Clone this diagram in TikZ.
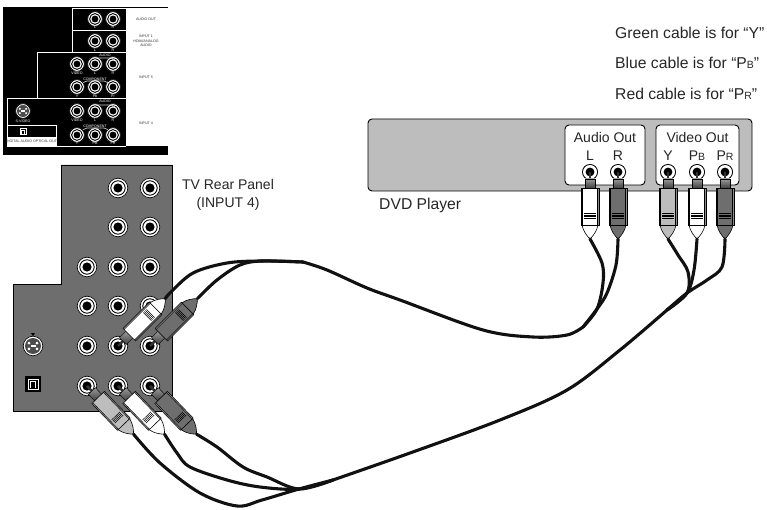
\documentclass[tikz,border=0pt]{standalone}
\usepackage{fontspec}
\setmainfont{Liberation Sans}
\usetikzlibrary{calc}
\definecolor{cA}{HTML}{6e6e6e}
\definecolor{cB}{HTML}{bdbdbd}
\definecolor{cC}{HTML}{111111}
\newcommand{\Sub}[1]{{\fontsize{10.5}{10.5}\selectfont #1}}
\tikzset{
  panel/.style={draw=black,line width=.9pt,fill=cA},
  wire/.style={white,line width=.9pt},
  cable/.style={draw=cC,line width=3.1pt,line cap=round},
  label/.style={inner sep=0pt,font=\fontsize{14}{18.5}\selectfont,text=black!85},
  biglabel/.style={label,font=\fontsize{15.7}{18}\selectfont},
  tinylabel/.style={inner sep=0pt,font=\fontsize{3.6}{4.6}\selectfont,text=white,align=center},
  tinyblack/.style={tinylabel,text=black!80},
  pics/jack/.style={code={
    \fill[white] (0,0) circle (10);
    \draw[black,line width=.7pt] (0,0) circle (9.8);
    \draw[black,line width=.9pt] (0,0) circle (7.2);
    \fill[black] (0,0) circle (4.6);
  }},
  pics/smalljack/.style={code={
    \fill[black] (0,0) circle (8);
    \fill[white] (0,0) circle (7);
    \fill[black] (0,0) circle (4.4);
  }},
  pics/svideo/.style={code={
    \fill[white] (0,0) circle (10);
    \draw[black,line width=.7pt] (0,0) circle (9.8);
    \fill[black!70] (0,0) circle (8);
    \foreach \a in {35,145,215,325}{\fill[white] (\a:5) circle (1.5);}
    \fill[white] (-2.5,-.8) rectangle (2.5,.8);
    \fill[black] (-2,-13) -- (2,-13) -- (0,-10) -- cycle;
  }},
  pics/optical/.style={code={
    \fill[black] (-8,-8) rectangle (8,8);
    \draw[white,line width=1pt] (-5,-5) rectangle (5,5);
    \draw[white,line width=1.6pt] (-2.4,3.6) -- (-2.4,-2.6) -- (2.4,-2.6) -- (2.4,3.6);
  }},
  pics/plug/.style={code={
    \coordinate (-tail) at (67,0);
    \fill[black!80] (0,-1.3) rectangle (9,1.3);
    \shade[top color=black!40,bottom color=black!75,draw=black,line width=.4pt] (7,-4.8) rectangle (16,4.8);
    \draw[black,line width=.6pt,fill=#1] (53,-8) .. controls (59,-7) and (64,-3) .. (67,0)
      .. controls (64,3) and (59,7) .. (53,8) -- cycle;
    \draw[black,line width=.5pt,fill=black!45] (16,-8.8) rectangle (53,8.8);
    \draw[black,line width=.4pt,fill=#1] (16,-7.4) rectangle (53,7.4);
    \foreach \r in {41.5,43,44.5,46}{\draw[black,line width=.5pt] (\r,-5.8) -- (\r,5.8);}
  }},
}

\begin{document}
\begin{tikzpicture}[x=1pt,y=-1pt]
  \useasboundingbox (0,0) rectangle (767,510);
  \fill[black] (3,7) rectangle (168,155);
  \fill[white] (126,8) rectangle (168,146);
  \draw[wire] (126,8) -- (72.5,8) -- (72.5,52) -- (37.5,52) -- (37.5,98) -- (7,98) -- (7,146) -- (126,146);
  \draw[wire] (72.5,30) -- (126,30);
  \draw[wire] (37.5,52) -- (126,52);
  \draw[wire] (7,98) -- (126,98);
  \draw[wire] (7,125) -- (56,125) -- (56,146);
  \fill[white] (7,137) rectangle (56,146);
  \foreach \y in {19,41}{\foreach \x in {95,113}{\pic[scale=.75] at (\x,\y) {jack};}}
  \foreach \y in {64,87,111,135}{\foreach \x in {77,95,113}{\pic[scale=.75] at (\x,\y) {jack};}}
  \pic[scale=.75] at (23,111) {svideo};
  \pic[scale=.6] at (23,132) {optical};
  \foreach \y in {58,105}{\draw[white!80!black,line width=.7pt,rounded corners=2pt] (90,\y+2) -- (92,\y) -- (113,\y) -- (115,\y+2);}
  \foreach \y in {81,128}{\draw[white!80!black,line width=.7pt,rounded corners=2pt] (83,\y+2) -- (85,\y) -- (106,\y) -- (108,\y+2);}
  \foreach \x/\y/\t [count=\i] in {95/27/L,113/27/R,95/50/L,113/50/R,77/73/VIDEO,95/73/L,113/73/R,
    77/96/Y,95/96/Pb,113/96/Pr,77/120/VIDEO,95/120/L,113/120/R,77/143/Y,95/143/PB,113/143/PR,
    23/121/S-VIDEO,105/55/AUDIO,105/101/AUDIO,95/79/COMPONENT,95/126/COMPONENT}{
    \node[tinylabel] (t\i) at (\x,\y) {\t};}
  \node[tinyblack] (optout) at (31.5,141.5) {DIGITAL AUDIO OPTICAL OUT};
  \node[tinyblack] (audioout) at (146,19) {AUDIO OUT};
  \node[tinyblack] (inputone) at (146,41) {INPUT 1\\HDMI/ANALOG\\AUDIO};
  \node[tinyblack] (inputfive) at (146,77) {INPUT 5};
  \node[tinyblack] (inputfour) at (146,123) {INPUT 4};

  \draw[panel] (61,165) -- (172,165) -- (172,411) -- (13,411) -- (13,284) -- (61,284) -- cycle;
  \foreach \y in {188,227}{\foreach \x in {118,150}{\pic at (\x,\y) {jack};}}
  \foreach \y in {267,306,346,386}{\foreach \x in {87,118,150}{\pic at (\x,\y) {jack};}}
  \pic at (33,346) {svideo};
  \pic at (33,384) {optical};

  \draw[black,line width=.9pt,fill=cB,rounded corners=4pt] (368,119) rectangle (752,191);
  \draw[black,line width=.9pt,fill=white,rounded corners=4pt] (565,125) rectangle (645,185);
  \draw[black,line width=.9pt,fill=white,rounded corners=4pt] (656,125) rectangle (739,185);
  \foreach \x in {590,618,668,697,725}{\pic at (\x,172) {smalljack};}

  \pic[rotate=45] (tvl) at (118,346) {plug=white};
  \pic[rotate=45] (tvr) at (150,346) {plug=cA};
  \pic[rotate=-46] (tvy) at (87,386) {plug=cB};
  \pic[rotate=-46] (tvb) at (118,386) {plug=white};
  \pic[rotate=-46] (tvp) at (150,386) {plug=cA};
  \pic[rotate=-90] (dvl) at (590,172) {plug=white};
  \pic[rotate=-90] (dvr) at (618,172) {plug=cA};
  \pic[rotate=-90] (dvy) at (668,172) {plug=cB};
  \pic[rotate=-90] (dvb) at (697,172) {plug=white};
  \pic[rotate=-90] (dvp) at (725,172) {plug=cA};

  \coordinate (tvjoin) at (299,489);
  \coordinate (tvnext) at (333,480);
  \coordinate (dvjoin) at (687,293);
  \coordinate (dvnext) at (667,310);
  \coordinate (audiojoin) at (597,309);
  \coordinate (audionext) at (583,327);
  \coordinate (rearjoin) at (262,261);
  \coordinate (rearnext) at (303,262);
  \draw[cable] plot[smooth,tension=.55] coordinates {(tvy-tail) (160,463) (200,493) (237,506) (262,500) (tvjoin) (tvnext)};
  \draw[cable] plot[smooth,tension=.55] coordinates {(tvb-tail) (177,453) (190,467) (227,480) (260,487) (tvjoin) (tvnext)};
  \draw[cable] plot[smooth,tension=.55] coordinates {(tvp-tail) (217,447) (243,467) (267,477) (tvjoin) (tvnext)};
  \draw[cable] plot[smooth,tension=.55] coordinates {(tvnext) (410,453) (500,420) (567,390) (620,350) (dvnext)};
  \draw[cable] plot[smooth,tension=.55] coordinates {(dvy-tail) (678,255) (688,272) (dvjoin) (dvnext)};
  \draw[cable] plot[smooth,tension=.55] coordinates {(dvb-tail) (694,270) (dvjoin) (dvnext)};
  \draw[cable] plot[smooth,tension=.55] coordinates {(dvp-tail) (722,267) (707,280) (dvjoin) (dvnext)};
  \draw[cable] plot[smooth,tension=.55] coordinates {(dvl-tail) (602,263) (603,283) (audiojoin) (audionext)};
  \draw[cable] plot[smooth,tension=.55] coordinates {(dvr-tail) (616,265) (607,293) (audiojoin) (audionext)};
  \draw[cable] plot[smooth,tension=.55] coordinates {(audionext) (567,335) (533,337) (483,330) (400,300) (367,288) (327,270) (rearnext)};
  \draw[cable] plot[smooth,tension=.55] coordinates {(rearnext) (rearjoin) (227,263) (193,273) (170,293) (tvl-tail)};
  \draw[cable] plot[smooth,tension=.55] coordinates {(rearnext) (rearjoin) (240,265) (217,280) (tvr-tail)};

  \node[biglabel,anchor=west] (green) at (615,33) {Green cable is for “Y”};
  \node[biglabel,anchor=west] (blue) at (615,63) {Blue cable is for “P\Sub{B}”};
  \node[biglabel,anchor=west] (red) at (615,93.5) {Red cable is for “P\Sub{R}”};
  \node[label,align=center] (rear) at (228,195) {TV Rear Panel\\(INPUT 4)};
  \node[biglabel,anchor=west] (dvd) at (379,205) {DVD Player};
  \node[label] (audio) at (605,137) {Audio Out};
  \node[label] (video) at (697.5,137) {Video Out};
  \node[label] (lname) at (590,156) {L};
  \node[label] (rname) at (618,156) {R};
  \node[label] (yname) at (668,156) {Y};
  \node[label] (bname) at (697,156) {P\Sub{B}};
  \node[label] (pname) at (725,156) {P\Sub{R}};
\end{tikzpicture}
\end{document}
